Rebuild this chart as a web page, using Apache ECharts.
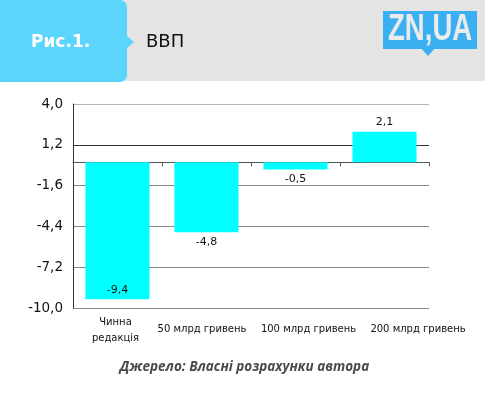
<!DOCTYPE html>
<html><head><meta charset="utf-8">
<script src="https://cdn.jsdelivr.net/npm/echarts@6/dist/echarts.min.js"></script>
<style>html,body{margin:0;padding:0;background:#fff}#c{width:489px;height:393px}</style>
</head><body><div id="c"></div>
<script>
const categories = ['Чинна\nредакція', '50 млрд гривень', '100 млрд гривень', '200 млрд гривень'];
const values = [-9.4, -4.8, -0.5, 2.1];
const yTicks = [-10.0, -7.2, -4.4, -1.6, 1.2, 4.0];
const title = 'ВВП';
const figLabel = 'Рис.1.';
const source = 'Джерело: Власні розрахунки автора';

// horizontal nudges of category labels (layout only)
const labelShift = [-2, -4.5, 13, 33.5];

const chart = echarts.init(document.getElementById('c'), null, {renderer: 'canvas'});
const fmt = v => v.toFixed(1).replace('.', ',');
const barData = values.map((v, i) => ({
  value: v,
  label: {position: v >= 0 ? 'top' : (i === 0 ? 'insideBottom' : 'bottom')}
}));
const catData = categories.map((c, i) => {
  const s = labelShift[i];
  const top = c.indexOf('\n') >= 0 ? 0 : 7;
  return {value: c, textStyle: {padding: s >= 0 ? [top, 0, 0, 2 * s] : [top, -2 * s, 0, 0]}};
});

chart.setOption({
  animation: false,
  backgroundColor: '#fff',
  grid: {left: 73, right: 60, top: 104, bottom: 85, containLabel: false},
  xAxis: {
    type: 'category',
    data: catData,
    position: 'bottom',
    axisLine: {onZero: true, lineStyle: {color: '#555', width: 1}},
    axisTick: {show: true, length: 4, lineStyle: {color: '#555'}},
    axisLabel: {
      fontFamily: 'DejaVu Sans', fontSize: 10, color: '#111',
      margin: 6, interval: 0, lineHeight: 16
    }
  },
  yAxis: {
    type: 'value',
    min: yTicks[0], max: yTicks[yTicks.length - 1], interval: 2.8,
    axisLine: {show: true, lineStyle: {color: '#333'}},
    axisTick: {show: false},
    axisLabel: {
      fontFamily: 'DejaVu Sans', fontSize: 13.5, color: '#111', margin: 10,
      formatter: v => fmt(v)
    },
    splitLine: {show: true, lineStyle: {color: ['#888', '#888', '#888', '#888', '#333', '#b5b5b5'], width: 1}}
  },
  series: [{
    type: 'bar',
    data: barData,
    barWidth: '72%',
    itemStyle: {color: '#00ffff'},
    label: {
      show: true, fontFamily: 'DejaVu Sans', fontSize: 11, color: '#111',
      distance: 4, formatter: p => fmt(p.value)
    }
  }],
  graphic: [
    {type: 'rect', shape: {x: 0, y: 0, width: 485, height: 81}, style: {fill: '#e4e4e4'}, z: -1},
    {type: 'rect', shape: {x: 0, y: 0, width: 127, height: 82, r: [0, 7, 7, 0]}, style: {fill: '#5cd5fd'}},
    {type: 'polygon', shape: {points: [[126, 35], [134, 42], [126, 49]]}, style: {fill: '#5cd5fd'}},
    {type: 'text', left: 31, top: 34, style: {text: figLabel, fill: '#fff', font: 'bold 17px "DejaVu Sans"'}},
    {type: 'text', left: 146, top: 33, style: {text: title, fill: '#111', font: '18px "DejaVu Sans"'}},
    {type: 'rect', shape: {x: 383, y: 11, width: 94, height: 38}, style: {fill: '#3ab0f2'}},
    {type: 'polygon', shape: {points: [[421, 48], [435, 48], [428, 56]]}, style: {fill: '#3ab0f2'}},
    {type: 'text', x: 388, y: 11, scaleX: 0.745, style: {text: 'ZN,UA', fill: '#ebebeb', font: 'bold 37px "Liberation Sans"'}},
    {type: 'text', left: 'center', top: 360, style: {text: source, fill: '#4a4a4a', font: 'italic bold 13.5px "Open Sans"'}}
  ]
});
</script>
</body></html>
